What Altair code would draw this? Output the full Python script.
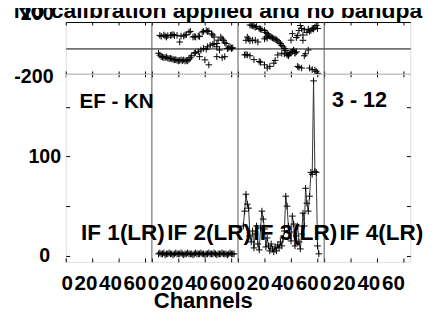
import altair as alt
import pandas as pd

# ---------------- data ----------------
PANEL = 65  # channel span of one IF panel on the shared x axis
if_labels = ["IF 1(LR)", "IF 2(LR)", "IF 3(LR)", "IF 4(LR)"]
if_panels = [0, 1, 2, 3]
divider_channels = [65, 130, 195]
tick_channels = [0, 20, 40, 60]
phase_ticks = [-200, 0, 200]
amp_ticks = [0, 50, 100, 150]
title_text = "No calibration applied and no bandpass correction"
baseline_text = "EF - KN"
time_text = "3 - 12"

# IF 2 phase (deg)
if2_phase_ch = [6, 7, 9, 10, 11, 12, 14, 15, 16, 17, 19, 21, 22, 24, 25, 26, 28, 29, 31, 32,
                33, 35, 36, 38, 39, 41, 42, 43, 45, 46, 47, 49, 50, 52, 53, 54, 55, 56, 58, 59,
                60, 61,
                5, 6, 7, 8, 9, 10, 11, 12, 13, 14, 15, 16, 17, 18, 19, 20, 21, 22, 23, 24,
                25, 26, 27, 28, 29, 30, 32, 33, 35, 36, 37, 39, 40, 41, 42, 43, 44, 46, 47, 49,
                49, 51, 53, 55, 57, 60]
if2_phase = [97, 90, 100, 92, 84, 95, 97, 100, 104, 95, 97, 46, 92, 92, 100, 102, 122, 128, 84, 88,
             84, 92, 88, 122, 128, 135, 127, 130, 109, 100, 84, 34, 60, 84, 70, 59, 40, 34, 1, 8,
             -4, 1,
             -41, -55, -67, -70, -72, -75, -70, -79, -82, -80, -84, -88, -92, -90, -95, -100, -96, -92, -98, -92,
             -100, -96, -100, -88, -75, -60, -41, -35, -29, -67, -16, -4, -92, -10, 9, -130, 21, 28, 34, 9,
             -67, -16, -75, -67, -5, 0]

# IF 3 phase (deg)
if3_phase_ch = [9, 10, 11, 12, 13, 14, 16, 17, 18, 20, 21, 22, 23, 24, 25, 26, 27, 28, 29, 30,
                31, 32, 33, 34, 35, 36, 37, 38, 39, 40, 41, 42, 43,
                6, 7, 8, 9, 11, 13, 15, 20, 21, 22,
                40, 41, 44, 45, 46, 47, 48, 49, 49, 50, 52, 53, 54, 55, 56, 57, 58, 59, 60,
                5, 6, 7, 9, 12, 16, 17, 20, 22, 24, 27, 28, 30, 33, 35, 37, 38, 42, 43, 44,
                45, 46, 48, 50, 51, 53, 54, 56, 58, 59, 60]
if3_phase = [177, 175, 172, 167, 160, 165, 150, 145, 140, 135, 120, 110, 100, 90, 84, 78, 72, 68, 62, 55,
             45, 34, 20, 9, -4, -20, -41, -54, -45, -35, -29, -22, -35,
             59, 84, 70, 55, 59, 60, 46, 70, 84, 75,
             60, 110, 80, 95, 134, 173, 150, 100, 59, 140, 120, 145, 130, 135, 150, 145, 160, 173, 150,
             -54, -50, -54, -60, -90, -104, -110, -130, -155, -142, -117, -96, -54, -41, -45, -54, -60, -16, -41, -30,
             -142, -150, -155, -60, -45, -16, -155, -167, -170, -180, -195]

# amplitudes
if2_amp_ch = [5, 6, 7, 8, 9, 10, 11, 12, 13, 14, 15, 16, 17, 18, 19, 20, 21, 22, 23, 24,
              25, 26, 27, 28, 29, 30, 31, 32, 33, 34, 35, 36, 37, 38, 39, 40, 41, 42, 43, 44,
              45, 46, 47, 48, 49, 50, 51, 52, 53, 54, 55, 56, 57, 58, 59, 60, 61, 62]
if2_amp = [2, 3, 2, 2, 3, 1, 2, 2, 3, 2, 2, 1, 2, 3, 2, 2, 2, 3, 2, 1,
           2, 2, 3, 2, 2, 2, 1, 2, 3, 2, 2, 2, 3, 2, 2, 1, 2, 2, 3, 2,
           2, 2, 3, 2, 1, 2, 2, 2, 3, 2, 2, 2, 1, 2, 3, 2, 2, 2]
if3_amp_ch = [4, 5, 6, 7, 8, 9, 10, 11, 12, 13, 14, 15, 16, 17, 18, 19, 20, 21, 22, 23,
              24, 25, 26, 27, 28, 29, 30, 31, 32, 33, 34, 35, 36, 37, 38, 39, 40, 41, 42, 43,
              44, 45, 46, 47, 48, 49, 50, 51, 52, 53, 54, 55, 56, 57, 58, 59, 60, 61]
if3_amp = [30, 45, 62, 52, 48, 20, 14, 25, 8, 22, 30, 12, 6, 28, 45, 37, 27, 9, 18, 10,
           5, 12, 7, 4, 9, 5, 11, 8, 14, 10, 18, 25, 60, 50, 30, 24, 15, 40, 32, 10,
           20, 30, 14, 7, 22, 43, 30, 68, 53, 45, 60, 84, 82, 176, 85, 84, 10, 2]

# ---------------- tables ----------------
def frame(panel, ch, vals, name):
    return pd.DataFrame({"panel": [panel] * len(ch), "channel": ch, name: vals})

df_phase = pd.concat([frame(1, if2_phase_ch, if2_phase, "phase"),
                      frame(2, if3_phase_ch, if3_phase, "phase")], ignore_index=True)
df_amp = pd.concat([frame(1, if2_amp_ch, if2_amp, "amp"),
                    frame(2, if3_amp_ch, if3_amp, "amp")], ignore_index=True)
df_div = pd.DataFrame({"edge": divider_channels})
df_if = pd.DataFrame({"label": if_labels, "panel": if_panels})
df_title = pd.DataFrame({"t": [title_text]})
df_bl = pd.DataFrame({"t": [baseline_text]})
df_tr = pd.DataFrame({"t": [time_text]})

x_ticks = [p * PANEL + t for p in if_panels for t in tick_channels]
x_scale = alt.Scale(domain=[0, 4 * PANEL], nice=False, zero=False)
ph_scale = alt.Scale(domain=[-200, 200], nice=False, zero=False)
amp_scale = alt.Scale(domain=[-6, 183], nice=False, zero=False)

FONT = "Liberation Sans"
cross = "M-1,0L1,0M0,-1L0,1"
W = 352

# ---------------- phase panel ----------------
ph_pts = alt.Chart(df_phase).transform_calculate(
    xpos=f"datum.panel * {PANEL} + datum.channel"
).mark_point(shape=cross, size=46, filled=False, stroke="black", strokeWidth=1,
             opacity=1, clip=True).encode(
    x=alt.X("xpos:Q", scale=x_scale,
            axis=alt.Axis(values=x_ticks, labels=False, domain=False, grid=False,
                          ticks=True, tickSize=6, offset=-3, tickColor="black", title=None)),
    y=alt.Y("phase:Q", scale=ph_scale,
            axis=alt.Axis(values=phase_ticks, grid=True, gridColor="black", gridOpacity=1,
                          ticks=False, domain=False, title=None,
                          labelExpr="datum.value == 0 ? '' : '' + datum.value",
                          labelFont=FONT, labelFontSize=20, labelFontWeight="bold",
                          labelColor="black", labelPadding=13, labelBaseline="alphabetic",
                          labelOffset={"condition": {"test": "datum.value > 0", "value": -3},
                                       "value": 9})),
)

ph_div = alt.Chart(df_div).mark_rule(color="#555", strokeWidth=1).encode(
    x=alt.X("edge:Q", scale=x_scale,
            axis=alt.Axis(orient="top", values=x_ticks, labels=False, domain=False,
                          grid=False, ticks=True, tickSize=3, offset=-3,
                          tickColor="black", title=None)),
)

title_mark = alt.Chart(df_title).mark_text(
    align="left", baseline="alphabetic", font=FONT, fontSize=23.4, fontWeight="bold",
    color="black", limit=419, ellipsis="\u200b"
).encode(text="t:N", x=alt.value(-53), y=alt.value(-4.5))

phase = alt.layer(ph_pts, ph_div, title_mark).resolve_axis(x="independent").properties(
    width=W, height=53)

# ---------------- amplitude panel ----------------
x_label_offset = {
    "condition": [
        {"test": f"datum.value % {PANEL} == 0", "value": 1},
        {"test": f"datum.value % {PANEL} == 20", "value": -7},
        {"test": f"datum.value % {PANEL} == 40", "value": -9},
    ],
    "value": -11,
}

amp_line = alt.Chart(df_amp).transform_calculate(
    xpos=f"datum.panel * {PANEL} + datum.channel"
).mark_line(color="#333", strokeWidth=1, clip=True).encode(
    x=alt.X("xpos:Q", scale=x_scale,
            axis=alt.Axis(values=x_ticks, domain=False, grid=False, ticks=True,
                          tickSize=4, offset=-4, tickColor="black",
                          labelExpr=f"'' + (datum.value % {PANEL})",
                          labelOverlap=False, labelBound=False, labelFlush=False,
                          labelFont=FONT, labelFontSize=21, labelFontWeight="bold",
                          labelColor="black", labelPadding=11,
                          labelOffset=x_label_offset,
                          title="Channels", titleFont=FONT, titleFontSize=22.5,
                          titleFontWeight="bold", titleColor="black",
                          titleX=140, titleY=51, titleAlign="center",
                          titleBaseline="alphabetic")),
    y=alt.Y("amp:Q", scale=amp_scale,
            axis=alt.Axis(values=amp_ticks, domain=False, grid=False, ticks=True,
                          tickSize=4, offset=-4, tickColor="black", title=None,
                          labelExpr="datum.value == 0 || datum.value == 100 ? '' + datum.value : ''",
                          labelFont=FONT, labelFontSize=20, labelFontWeight="bold",
                          labelColor="black", labelPadding=22, labelAlign="center")),
    detail="panel:N",
    order="xpos:Q",
)

amp_pts = alt.Chart(df_amp).transform_calculate(
    xpos=f"datum.panel * {PANEL} + datum.channel"
).mark_point(shape=cross, size=46, filled=False, stroke="black", strokeWidth=1,
             opacity=1, clip=True).encode(
    x=alt.X("xpos:Q", scale=x_scale, axis=None),
    y=alt.Y("amp:Q", scale=amp_scale,
            axis=alt.Axis(orient="right", values=amp_ticks, labels=False, domain=False,
                          grid=False, ticks=True, tickSize=4, offset=-4,
                          tickColor="black", title=None)),
)

amp_div = alt.Chart(df_div).mark_rule(color="#555", strokeWidth=1).encode(
    x=alt.X("edge:Q", scale=x_scale, axis=None),
)

if_text = alt.Chart(df_if).transform_calculate(
    xstart=f"datum.panel * {PANEL}"
).mark_text(align="left", baseline="alphabetic", dx=15.7, font=FONT, fontSize=23,
            fontWeight="bold", color="black").encode(
    x=alt.X("xstart:Q", scale=x_scale, axis=None),
    y=alt.value(170),
    text="label:N",
)

bl_text = alt.Chart(df_bl).mark_text(
    align="left", baseline="alphabetic", font=FONT, fontSize=21, fontWeight="bold",
    color="black").encode(text="t:N", x=alt.value(14), y=alt.value(35))
tr_text = alt.Chart(df_tr).mark_text(
    align="left", baseline="alphabetic", font=FONT, fontSize=22, fontWeight="bold",
    color="black").encode(text="t:N", x=alt.value(272), y=alt.value(34))

amp = alt.layer(amp_line, amp_pts, amp_div, if_text, bl_text, tr_text).resolve_axis(
    x="independent", y="independent").properties(width=W, height=192)

chart = alt.vconcat(phase, amp, spacing=0, bounds="flush").properties(
    padding={"left": 5, "top": -13, "right": 0, "bottom": 0}
).configure_view(stroke="black", strokeWidth=1).configure(background="white")

chart.save("out.html", embed_options={"renderer": "svg", "actions": False})
